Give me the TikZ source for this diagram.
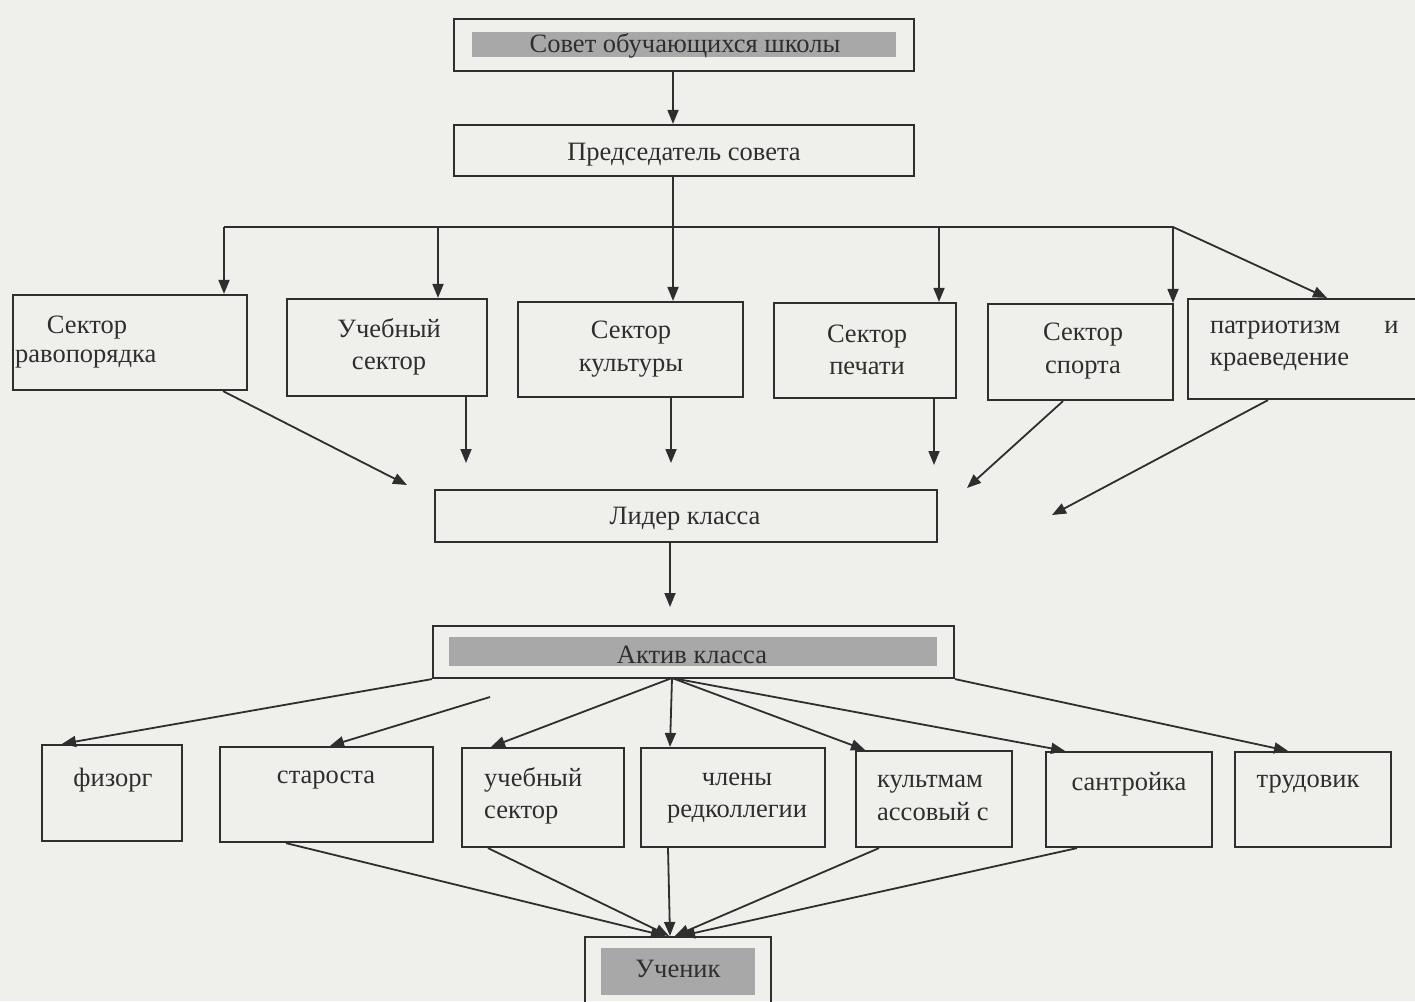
\documentclass[tikz,border=0pt]{standalone}
\usepackage{fontspec}
\setmainfont{Liberation Serif}
\usetikzlibrary{arrows.meta}
\definecolor{bg}{HTML}{EFEFEC}
\definecolor{ink}{HTML}{2E2E2E}
\definecolor{barfill}{HTML}{A8A8A8}
\begin{document}
\begin{tikzpicture}[x=1pt,y=-1pt,
  box/.style={draw=ink, line width=2.2pt, inner sep=0pt},
  graybar/.style={fill=barfill, draw=none, inner sep=0pt},
  lbl/.style={font=\fontsize{26.5}{32.5}\selectfont, text=ink, inner sep=0pt, align=center},
  conn/.style={draw=ink, line width=1.8pt, -{Triangle[length=14pt,width=11pt]}},
  plain/.style={draw=ink, line width=1.8pt}]
\fill[bg] (0,0) rectangle (1415,1001);
\clip (0,0) rectangle (1415,1001);

% boxes
\node[box, minimum width=460pt, minimum height=52pt] (sovet) at (684,45) {};
\node[graybar, minimum width=424pt, minimum height=25pt] (sovetbar) at (684,44.5) {};
\node[box, minimum width=460pt, minimum height=51pt] (pred) at (684,150.5) {};
\node[box, minimum width=234pt, minimum height=95pt] (s1) at (130,342.5) {};
\node[box, minimum width=200pt, minimum height=97pt] (s2) at (387,347.5) {};
\node[box, minimum width=225pt, minimum height=95pt] (s3) at (630.5,349.5) {};
\node[box, minimum width=182pt, minimum height=95pt] (s4) at (865,350.5) {};
\node[box, minimum width=185pt, minimum height=96pt] (s5) at (1080.5,352) {};
\node[box, minimum width=242pt, minimum height=100pt] (s6) at (1309,349) {};
\node[box, minimum width=502pt, minimum height=52pt] (lider) at (686,516) {};
\node[box, minimum width=521pt, minimum height=52pt] (aktiv) at (693.5,652) {};
\node[graybar, minimum width=488pt, minimum height=29pt] (aktivbar) at (693,651.5) {};
\node[box, minimum width=140pt, minimum height=96pt] (f) at (112,793) {};
\node[box, minimum width=213pt, minimum height=95pt] (st) at (326.5,794.5) {};
\node[box, minimum width=162pt, minimum height=99pt] (u) at (543,797.5) {};
\node[box, minimum width=184pt, minimum height=99pt] (ch) at (733,797.5) {};
\node[box, minimum width=156pt, minimum height=96pt] (k) at (934,799) {};
\node[box, minimum width=166pt, minimum height=95pt] (san) at (1129,799.5) {};
\node[box, minimum width=156pt, minimum height=95pt] (tr) at (1313,799.5) {};
\node[box, minimum width=186pt, minimum height=83pt] (uch) at (678,978.5) {};
\node[graybar, minimum width=154pt, minimum height=47pt] (uchbar) at (678,971.5) {};

% labels
\node[lbl] (tsovet) at (685,46) {Совет обучающихся школы};
\node[lbl] (tpred) at (684,155) {Председатель совета};
\node[lbl] (ts1a) at (87,328) {Сектор};
\node[lbl, anchor=west] (ts1b) at (15,359) {равопорядка};
\node[lbl] (ts2) at (389,347) {Учебный\\сектор};
\node[lbl] (ts3) at (631,349) {Сектор\\культуры};
\node[lbl] (ts4) at (867,350) {Сектор\\печати};
\node[lbl] (ts5) at (1083,351) {Сектор\\спорта};
\node[lbl, align=left, anchor=west] (ts6) at (1210,346) {патриотизм\hspace*{44pt}и\\краеведение};
\node[lbl] (tlider) at (685,519) {Лидер класса};
\node[lbl] (taktiv) at (692,655) {Актив класса};
\node[lbl] (tf) at (113,780) {физорг};
\node[lbl] (tst) at (326,780) {староста};
\node[lbl, align=left, anchor=west] (tu) at (484,796) {учебный\\сектор};
\node[lbl] (tch) at (737,798) {члены\\редколлегии};
\node[lbl, align=left, anchor=west] (tk) at (877,798) {культмам\\ассовый с};
\node[lbl] (tsan) at (1129,784) {сантройка};
\node[lbl] (ttr) at (1308,784) {трудовик};
\node[lbl] (tuch) at (678,969) {Ученик};

% top connectors
\draw[conn] ([xshift=-11pt]sovet.south) -- ([xshift=-11pt]pred.north);
\coordinate (h1) at (224,227);
\coordinate (h2) at (438,227);
\coordinate (h3) at (673,227);
\coordinate (h4) at (939,227);
\coordinate (h5) at (1173,227);
\draw[plain] (h1) -- (h5);
\draw[conn] ([xshift=-11pt]pred.south) -- (h3 |- s3.north);
\draw[conn] (h1) -- (h1 |- s1.north);
\draw[conn] (h2) -- (h2 |- s2.north);
\draw[conn] (h4) -- (h4 |- s4.north);
\draw[conn] (h5) -- (h5 |- s5.north);
\draw[conn] (h5) -- ([xshift=18pt]s6.north);

% sectors to leader
\coordinate (e1) at (407,485);
\coordinate (e2) at (466,463);
\coordinate (e3) at (671,463);
\coordinate (e4) at (934,465);
\coordinate (e5) at (967,488);
\coordinate (e6) at (1052,515);
\draw[conn] ([xshift=93pt]s1.south) -- (e1);
\draw[conn] (e2 |- s2.south) -- (e2);
\draw[conn] (e3 |- s3.south) -- (e3);
\draw[conn] (e4 |- s4.south) -- (e4);
\draw[conn] ([xshift=-17.5pt]s5.south) -- (e5);
\draw[conn] ([xshift=-41pt]s6.south) -- (e6);
\coordinate (e7) at (670,607);
\draw[conn] (e7 |- lider.south) -- (e7);

% active to members
\coordinate (ac) at (672,678);
\coordinate (free1) at (490,697);
\draw[conn] (aktiv.south west) -- ([xshift=-50pt]f.north);
\draw[conn] (free1) -- ([xshift=3.5pt]st.north);
\draw[conn] (ac) -- ([xshift=-52pt]u.north);
\draw[conn] (ac) -- ([xshift=-63pt]ch.north);
\draw[conn] (ac) -- ([xshift=-69pt]k.north);
\draw[conn] (ac) -- ([xshift=-64pt]san.north);
\draw[conn] (aktiv.south east) -- ([xshift=-25pt]tr.north);

% members to pupil
\draw[conn] ([xshift=-40.5pt]st.south) -- ([xshift=-13pt]uch.north);
\draw[conn] ([xshift=-55pt]u.south) -- ([xshift=-9pt]uch.north);
\draw[conn] ([xshift=-65pt]ch.south) -- ([xshift=-8pt]uch.north);
\draw[conn] ([xshift=-55pt]k.south) -- ([xshift=-3pt]uch.north);
\draw[conn] ([xshift=-52pt]san.south) -- ([xshift=3pt]uch.north);
\end{tikzpicture}
\end{document}
